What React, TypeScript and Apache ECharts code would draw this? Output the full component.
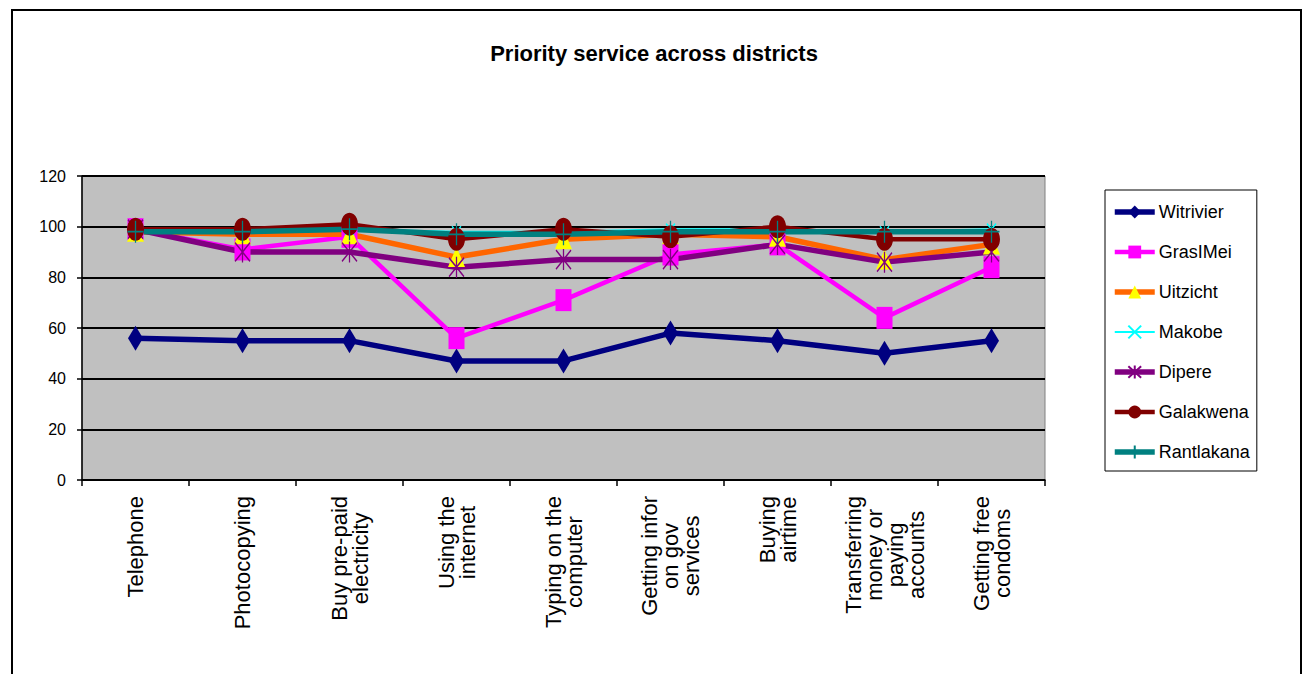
import React, { useEffect, useRef } from "react";
import * as echarts from "echarts";

const categories = [
  "Telephone",
  "Photocopying",
  "Buy pre-paid\nelectricity",
  "Using the\ninternet",
  "Typing on the\ncomputer",
  "Getting infor\non gov\nservices",
  "Buying\nairtime",
  "Transferring\nmoney or\npaying\naccounts",
  "Getting free\ncondoms",
];

const witrivier = [56, 55, 55, 47, 47, 58, 55, 50, 55];
const grasIMei = [99, 91, 96, 56, 71, 89, 93, 64, 84];
const uitzicht = [98, 97, 97, 88, 95, 97, 96, 87, 93];
const makobe = [99, 99, 99, 98, 98, 99, 99, 98, 99];
const dipere = [99, 90, 90, 84, 87, 87, 93, 86, 90];
const galakwena = [99, 99, 101, 95, 99, 96, 100, 95, 95];
const rantlakana = [98, 98, 99, 97, 97, 98, 98, 98, 98];

const yTicks = { min: 0, max: 120, interval: 20 };

const FONT = "Arial, 'Liberation Sans', sans-serif";

const ASTERISK = "path://M0,-1L0,1M-0.9,-0.9L0.9,0.9M-0.9,0.9L0.9,-0.9";
const CROSS = "path://M-1,-1L1,1M-1,1L1,-1";
const PLUS = "path://M0,-1L0,1M-1,0L1,0";

type Style = {
  name: string;
  data: number[];
  lineColor: string;
  lineWidth: number;
  symbol: string;
  symbolSize: number[];
  markerColor: string;
  stroked: boolean;
};

const styles: Style[] = [
  { name: "Witrivier", data: witrivier, lineColor: "#000080", lineWidth: 5.5, symbol: "diamond", symbolSize: [15, 25], markerColor: "#000080", stroked: false },
  { name: "GrasIMei", data: grasIMei, lineColor: "#ff00ff", lineWidth: 4.5, symbol: "rect", symbolSize: [16, 22], markerColor: "#ff00ff", stroked: false },
  { name: "Uitzicht", data: uitzicht, lineColor: "#ff6600", lineWidth: 5.5, symbol: "triangle", symbolSize: [17, 20], markerColor: "#ffff00", stroked: false },
  { name: "Makobe", data: makobe, lineColor: "#00ffff", lineWidth: 2, symbol: CROSS, symbolSize: [9, 11], markerColor: "#00ffff", stroked: true },
  { name: "Dipere", data: dipere, lineColor: "#800080", lineWidth: 5.5, symbol: ASTERISK, symbolSize: [15, 21], markerColor: "#800080", stroked: true },
  { name: "Galakwena", data: galakwena, lineColor: "#800000", lineWidth: 4.5, symbol: "circle", symbolSize: [17, 23], markerColor: "#800000", stroked: false },
  { name: "Rantlakana", data: rantlakana, lineColor: "#008080", lineWidth: 5.5, symbol: PLUS, symbolSize: [16, 22], markerColor: "#008080", stroked: true },
];

export default function App() {
  const ref = useRef<HTMLDivElement>(null);

  useEffect(() => {
    if (!ref.current) return;
    const chart = echarts.init(ref.current, null, { renderer: "svg" });
    chart.setOption({
      animation: false,
      backgroundColor: "#ffffff",
      title: {
        text: "Priority service across districts",
        left: 649,
        top: 37,
        textAlign: "center",
        textStyle: {
          fontFamily: FONT,
          fontWeight: "bold",
          fontSize: 22,
          color: "#000000",
        },
      },
      graphic: [
        {
          type: "rect",
          shape: { x: 12, y: 10, width: 1289, height: 700 },
          style: { fill: "none", stroke: "#000000", lineWidth: 2 },
          silent: true,
        },
      ],
      legend: {
        orient: "vertical",
        left: 1105,
        top: 190,
        padding: [13, 7, 10, 7],
        itemWidth: 40,
        itemHeight: 16,
        itemGap: 22,
        borderColor: "#000000",
        borderWidth: 1,
        backgroundColor: "#ffffff",
        textStyle: {
          fontFamily: FONT,
          fontSize: 18,
          lineHeight: 18,
          color: "#000000",
          padding: [0, 0, 0, -1],
        },
        data: styles.map((s) => ({
          name: s.name,
          lineStyle: { width: s.lineWidth, color: s.lineColor },
        })),
      },
      grid: {
        left: 82,
        top: 176,
        width: 963,
        height: 304,
        show: true,
        backgroundColor: "#c0c0c0",
        borderColor: "#808080",
        borderWidth: 1,
      },
      xAxis: {
        type: "category",
        data: categories,
        boundaryGap: true,
        axisLine: { lineStyle: { color: "#000000", width: 1.5 } },
        axisTick: {
          show: true,
          length: 6,
          inside: false,
          lineStyle: { color: "#000000", width: 1.5 },
        },
        axisLabel: {
          interval: 0,
          rotate: 90,
          margin: 16,
          fontFamily: FONT,
          fontSize: 22,
          lineHeight: 21,
          color: "#000000",
          formatter: (v: string) =>
            v
              .split("\n")
              .map((s) => `{c|${s}}`)
              .join("\n"),
          rich: {
            c: {
              align: "center",
              fontFamily: FONT,
              fontSize: 22,
              lineHeight: 21,
              color: "#000000",
            },
          },
        },
      },
      yAxis: {
        type: "value",
        min: yTicks.min,
        max: yTicks.max,
        interval: yTicks.interval,
        axisLine: { show: true, lineStyle: { color: "#000000", width: 1.5 } },
        axisTick: {
          show: true,
          length: 5,
          lineStyle: { color: "#000000", width: 1.5 },
        },
        axisLabel: {
          margin: 16,
          fontFamily: FONT,
          fontSize: 16,
          color: "#000000",
        },
        splitLine: { show: true, lineStyle: { color: "#000000", width: 2 } },
      },
      series: styles.map((s) => ({
        name: s.name,
        type: "line",
        data: s.data,
        symbol: s.symbol,
        symbolSize: s.symbolSize,
        showAllSymbol: true,
        lineStyle: { color: s.lineColor, width: s.lineWidth },
        itemStyle: s.stroked
          ? { color: s.markerColor, borderColor: s.markerColor, borderWidth: 1.5 }
          : { color: s.markerColor, borderWidth: 0 },
        emphasis: { disabled: true },
      })),
    });
    return () => chart.dispose();
  }, []);

  return (
    <div
      ref={ref}
      style={{ position: "absolute", left: 0, top: 0, width: 1303, height: 674 }}
    />
  );
}
